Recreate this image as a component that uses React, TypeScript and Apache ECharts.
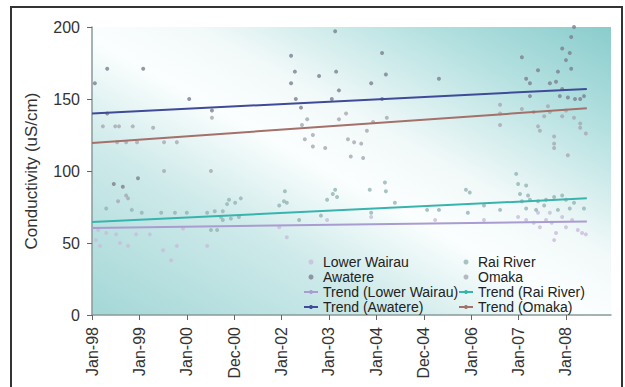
import React, { useEffect, useRef } from "react";
import * as echarts from "echarts";

const xTickLabels = ["Jan-98", "Jan-99", "Jan-00", "Dec-00", "Jan-02", "Jan-03", "Jan-04", "Dec-04", "Jan-06", "Jan-07", "Jan-08"];
const yTicks = [0, 50, 100, 150, 200];

// x = years since Jan-98 tick (1 unit = 1 tick interval), y = conductivity (uS/cm)
const lowerWairau: [number, number][] = [
  [0.13, 59], [0.08, 52], [0.3, 57], [0.51, 56], [0.59, 50], [0.76, 48], [0.93, 56], [1.22, 56],
  [1.5, 45], [1.67, 38], [1.79, 48], [1.92, 60], [2.43, 48], [0.17, 48], [4.11, 54], [3.95, 61],
  [4.96, 66], [5.89, 68], [7.24, 66], [8.27, 66], [8.99, 68], [9.16, 66], [9.32, 64], [9.45, 61],
  [9.58, 66], [9.7, 64], [9.79, 57], [9.75, 52], [9.92, 68], [10.0, 61], [10.13, 66], [10.25, 59],
  [10.34, 57], [10.42, 56], [9.41, 71], [9.66, 71],
];
const awatere: [number, number][] = [
  [0.06, 161], [0.32, 171], [1.08, 171], [2.05, 150], [0.32, 140], [2.53, 142], [0.46, 91], [0.65, 89],
  [0.97, 95], [4.2, 180], [4.28, 169], [4.2, 161], [4.3, 150], [4.41, 144], [4.79, 166], [5.13, 197],
  [5.15, 169], [5.21, 156], [6.12, 182], [6.2, 167], [5.89, 161], [7.32, 164], [5.06, 150], [6.12, 150],
  [9.07, 179], [9.16, 164], [9.41, 170], [9.24, 152], [9.24, 161], [9.66, 161], [9.79, 162], [9.83, 169],
  [9.92, 185], [10.0, 177], [10.08, 182], [10.11, 193], [10.17, 200], [10.11, 171], [9.92, 157],
  [9.87, 152], [10.04, 151], [10.19, 150], [10.3, 150], [10.38, 152],
];
const raiRiver: [number, number][] = [
  [0.3, 74], [0.84, 73], [1.05, 71], [1.46, 71], [1.75, 71], [2.0, 71], [2.43, 71], [2.59, 72],
  [2.76, 72], [2.85, 77], [2.89, 80], [3.02, 78], [3.14, 81], [2.72, 68], [2.76, 66], [2.93, 67],
  [3.1, 68], [2.51, 59], [2.64, 59], [3.95, 76], [4.05, 79], [4.11, 78], [4.07, 86], [5.13, 87],
  [5.08, 84], [4.96, 80], [5.17, 82], [6.18, 92], [6.2, 86], [5.86, 87], [6.39, 78], [5.89, 71],
  [7.07, 73], [7.32, 73], [7.89, 87], [7.97, 85], [7.93, 71], [8.61, 73], [8.27, 76], [4.83, 69],
  [4.37, 66], [8.95, 98], [8.99, 91], [9.16, 90], [9.03, 84], [9.2, 83], [9.07, 79], [9.24, 80],
  [9.41, 79], [9.58, 80], [9.75, 82], [9.92, 83], [10.0, 80], [10.17, 78], [10.38, 74], [9.16, 74],
  [9.37, 73], [9.54, 76], [9.83, 73], [10.08, 74],
];
const omaka: [number, number][] = [
  [0.23, 131], [0.49, 131], [0.57, 131], [0.86, 131], [1.29, 130], [0.53, 120], [0.72, 120], [0.95, 120],
  [1.52, 120], [1.79, 120], [1.52, 100], [2.51, 100], [2.53, 137], [0.72, 83], [0.55, 79], [0.76, 81],
  [4.43, 132], [4.54, 136], [4.49, 122], [4.66, 117], [4.92, 116], [4.66, 125], [5.36, 140], [5.21, 136],
  [5.4, 122], [5.53, 120], [5.68, 119], [5.46, 110], [5.72, 109], [5.8, 128], [5.93, 134], [6.22, 137],
  [8.61, 146], [8.61, 140], [8.61, 132], [9.07, 143], [9.32, 141], [9.41, 131], [9.45, 128], [9.62, 145],
  [9.75, 124], [9.75, 119], [9.75, 116], [9.92, 138], [10.0, 142], [10.17, 137], [10.3, 133], [10.3, 130],
  [10.42, 126], [10.04, 111], [9.54, 138], [9.66, 141],
];

// trend line end points
const trendLowerWairau: [number, number][] = [[0, 60.5], [10.44, 65]];
const trendRaiRiver: [number, number][] = [[0, 64.5], [10.44, 81]];
const trendAwatere: [number, number][] = [[0, 140], [10.44, 157]];
const trendOmaka: [number, number][] = [[0, 119.5], [10.44, 143.5]];

const FONT = "'Liberation Sans', Arial, sans-serif";

export default function App() {
  const ref = useRef<HTMLDivElement>(null);
  useEffect(() => {
    if (!ref.current) return;
    const chart = echarts.init(ref.current, undefined, { renderer: "svg" });
    const scatter = (name: string, data: [number, number][], color: string) => ({
      name, type: "scatter", data, symbol: "circle", symbolSize: 4,
      itemStyle: { color }, z: 3,
    });
    const trend = (name: string, data: [number, number][], color: string) => ({
      name, type: "line", data, symbol: "none", showSymbol: false,
      lineStyle: { color, width: 2 }, itemStyle: { color }, z: 4,
    });
    const legendCommon = {
      orient: "vertical", itemWidth: 14, itemHeight: 5, itemGap: 1,
      textStyle: { fontFamily: FONT, fontSize: 14, color: "#222" },
      selectedMode: false, padding: 0,
    };
    chart.setOption({
      animation: false,
      textStyle: { fontFamily: FONT },
      grid: {
        left: 92, right: 14, top: 27, bottom: 72, show: true, borderWidth: 0,
        backgroundColor: new echarts.graphic.LinearGradient(0, 1, 1, 0, [
          { offset: 0, color: "#a4d7d7" },
          { offset: 0.3, color: "#cfeaea" },
          { offset: 0.48, color: "#fbfefe" },
          { offset: 0.6, color: "#f2f9f9" },
          { offset: 0.82, color: "#b4e0e0" },
          { offset: 1, color: "#8acccc" },
        ]),
      },
      graphic: [
        {
          type: "rect", shape: { x: 11, y: 7, width: 611, height: 400 },
          style: { fill: "none", stroke: "#333", lineWidth: 2 }, silent: true,
        },
      ],
      legend: [
        { ...legendCommon, left: 303, top: 255,
          data: [
            { name: "Lower Wairau", icon: "circle" }, { name: "Awatere", icon: "circle" },
            "Trend (Lower Wairau)", "Trend (Awatere)",
          ] },
        { ...legendCommon, left: 458, top: 255,
          data: [
            { name: "Rai River", icon: "circle" }, { name: "Omaka", icon: "circle" },
            "Trend (Rai River)", "Trend (Omaka)",
          ] },
      ],
      xAxis: {
        type: "value", min: 0, max: 10.95, interval: 1,
        axisLine: { show: true, lineStyle: { color: "#8a9a9a", width: 1.5 } },
        axisTick: { show: true, length: 5, lineStyle: { color: "#666" } },
        splitLine: { show: false },
        axisLabel: {
          rotate: 90, margin: 12, fontSize: 16, color: "#333", fontFamily: FONT,
          showMaxLabel: false,
          formatter: (v: number) => xTickLabels[Math.round(v)] ?? "",
        },
      },
      yAxis: {
        type: "value", min: yTicks[0], max: yTicks[yTicks.length - 1], interval: 50,
        name: "Conductivity (uS/cm)", nameLocation: "middle", nameGap: 52, nameRotate: 90,
        nameTextStyle: { fontSize: 17, color: "#333", fontFamily: FONT },
        axisLine: { show: true, lineStyle: { color: "#8a9a9a", width: 1.5 } },
        axisTick: { show: true, length: 5, lineStyle: { color: "#666" } },
        splitLine: { show: false },
        axisLabel: { fontSize: 16, color: "#333", margin: 12, fontFamily: FONT },
      },
      series: [
        scatter("Lower Wairau", lowerWairau, "#c9bcdc"),
        scatter("Awatere", awatere, "#7c8090"),
        scatter("Rai River", raiRiver, "#93b4b4"),
        scatter("Omaka", omaka, "#a8a8b0"),
        trend("Trend (Lower Wairau)", trendLowerWairau, "#a99cd0"),
        trend("Trend (Awatere)", trendAwatere, "#3f4a98"),
        trend("Trend (Rai River)", trendRaiRiver, "#38b4ae"),
        trend("Trend (Omaka)", trendOmaka, "#a4706a"),
      ],
    });
    return () => chart.dispose();
  }, []);
  return (
    <div style={{ position: "fixed", left: 0, top: 0, width: 625, height: 387, background: "#fff" }}>
      <div ref={ref} style={{ width: 625, height: 387 }} />
    </div>
  );
}
